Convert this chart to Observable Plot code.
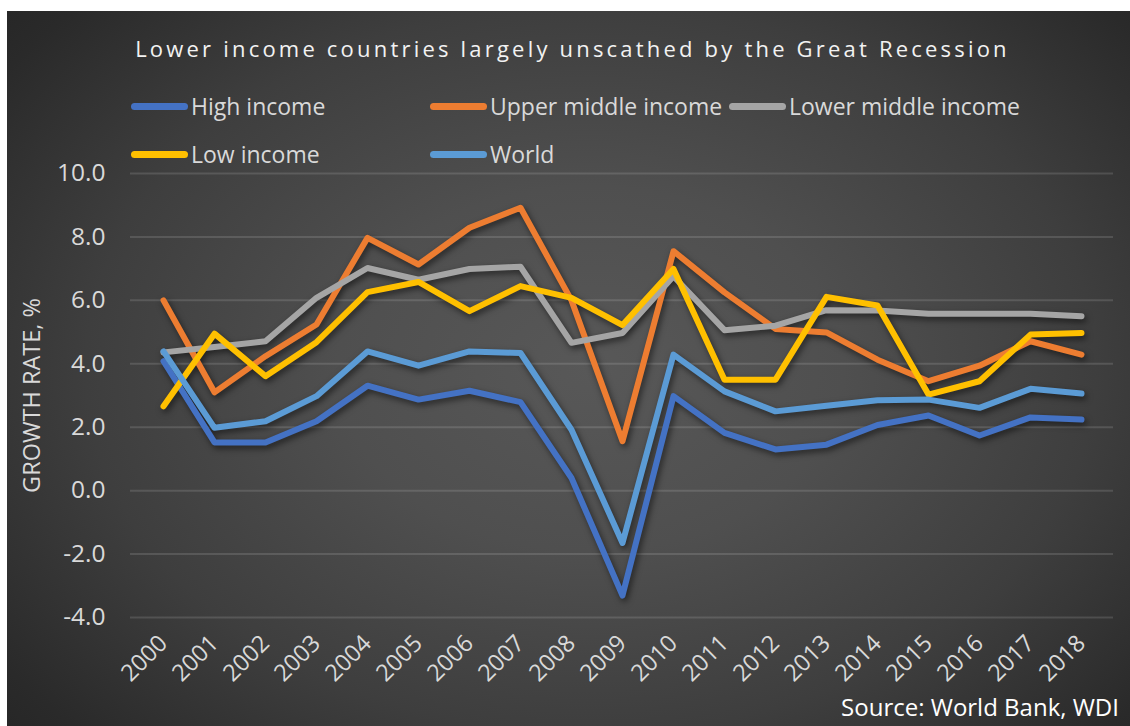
<!DOCTYPE html>
<html>
<head>
<meta charset="utf-8">
<script src="https://cdn.jsdelivr.net/npm/d3@7"></script>
<script src="https://cdn.jsdelivr.net/npm/@observablehq/plot@0.6"></script>
<style>
  html, body { margin: 0; padding: 0; background: #ffffff; }
  body { width: 1130px; height: 726px; position: relative; overflow: hidden; font-family: "Open Sans", Lato, sans-serif; }
  #panel {
    position: absolute; left: 7px; top: 11px; width: 1123px; height: 715px;
    background: radial-gradient(ellipse 75% 85% at 52% 50%, #585858 0%, #4f4f4f 30%, #3e3e3e 60%, #2a2a2a 85%, #222222 100%);
    overflow: hidden;
  }
  #title {
    position: absolute; left: 4px; top: 22px; width: 1123px; text-align: center;
    color: #f2f2f2; font-size: 22px; letter-spacing: 3.2px; white-space: nowrap;
  }
  #legend { position: absolute; left: 124px; top: 78px; width: 960px; }
  .item { position: absolute; display: flex; align-items: center; height: 34px; color: #d9d9d9; font-size: 23px; white-space: nowrap; }
  .sw { width: 57px; height: 7px; border-radius: 4px; margin-right: 3px; }
  #chart { position: absolute; left: 0; top: 149px; }
  #chart svg g[aria-label="line"] { filter: drop-shadow(2px 3px 3px rgba(0,0,0,0.55)); }
  #source { position: absolute; right: 11px; top: 679px; color: #ffffff; font-size: 24px; white-space: nowrap; }
</style>
</head>
<body>
<div id="panel">
  <div id="title">Lower income countries largely unscathed by the Great Recession</div>
  <div id="legend"></div>
  <div id="chart"></div>
  <div id="source">Source: World Bank, WDI</div>
</div>
<script>
const years = ["2000","2001","2002","2003","2004","2005","2006","2007","2008","2009","2010","2011","2012","2013","2014","2015","2016","2017","2018"];
const seriesNames = ["High income", "Upper middle income", "Lower middle income", "Low income", "World"];
const seriesColors = ["#4472C4", "#ED7D31", "#A5A5A5", "#FFC000", "#5B9BD5"];

const highIncome   = [4.08, 1.52, 1.52, 2.19, 3.31, 2.87, 3.15, 2.79, 0.40, -3.31, 2.98, 1.82, 1.30, 1.45, 2.07, 2.37, 1.74, 2.31, 2.24];
const upperMiddle  = [6.00, 3.10, 4.24, 5.24, 7.97, 7.13, 8.29, 8.92, 6.00, 1.56, 7.55, 6.25, 5.10, 4.99, 4.13, 3.45, 3.94, 4.71, 4.29];
const lowerMiddle  = [4.36, 4.53, 4.71, 6.08, 7.02, 6.65, 6.99, 7.06, 4.66, 4.97, 6.76, 5.06, 5.20, 5.69, 5.68, 5.58, 5.58, 5.58, 5.50];
const lowIncome    = [2.66, 4.95, 3.61, 4.68, 6.26, 6.58, 5.66, 6.45, 6.08, 5.22, 6.99, 3.50, 3.50, 6.11, 5.84, 3.03, 3.45, 4.92, 4.97];
const world        = [4.39, 1.98, 2.19, 2.98, 4.39, 3.94, 4.39, 4.34, 1.92, -1.65, 4.29, 3.13, 2.50, 2.68, 2.85, 2.87, 2.61, 3.21, 3.06];

const yTicks = [-4, -2, 0, 2, 4, 6, 8, 10];

const seriesValues = [highIncome, upperMiddle, lowerMiddle, lowIncome, world];
const data = [];
seriesNames.forEach((name, i) => {
  years.forEach((yr, j) => data.push({series: name, year: yr, value: seriesValues[i][j]}));
});

// Legend
const legend = document.getElementById("legend");
const legendPos = [[0,0],[299,0],[598,0],[0,48],[299,48]];
seriesNames.forEach((name, i) => {
  const it = document.createElement("div");
  it.className = "item";
  it.style.left = legendPos[i][0] + "px";
  it.style.top = legendPos[i][1] + "px";
  const sw = document.createElement("div");
  sw.className = "sw";
  sw.style.background = seriesColors[i];
  const tx = document.createElement("span");
  tx.textContent = name;
  it.appendChild(sw); it.appendChild(tx);
  legend.appendChild(it);
});

const chart = Plot.plot({
  width: 1123,
  height: 545,
  marginLeft: 123,
  marginRight: 17,
  marginTop: 13,
  marginBottom: 88,
  style: { background: "transparent", fontFamily: "'Open Sans', Lato, sans-serif", color: "#d9d9d9", overflow: "visible" },
  x: { type: "point", domain: years, padding: 0.5, label: null },
  y: { domain: [-4, 10], ticks: yTicks, label: "GROWTH RATE, %" },
  color: { domain: seriesNames, range: seriesColors },
  marks: [
    Plot.gridY(yTicks, { stroke: "#ffffff", strokeOpacity: 0.13, strokeWidth: 2 }),
    Plot.axisY({ ticks: yTicks, tickSize: 0, tickPadding: 25, tickFormat: d => d.toFixed(1), fontSize: 24.5, fill: "#d9d9d9", label: null }),
    Plot.axisY({ ticks: [], tickSize: 0, fontSize: 23.5, fill: "#d9d9d9",
      label: "GROWTH RATE, %", labelAnchor: "center", labelOffset: 107, labelArrow: "none" }),
    Plot.axisX({ tickSize: 0, tickPadding: 22, tickRotate: -45, fontSize: 23.5, fill: "#d9d9d9", label: null }),
    Plot.line(data, { x: "year", y: "value", z: "series", stroke: "series", strokeWidth: 6, strokeLinecap: "round", strokeLinejoin: "round" })
  ]
});
document.getElementById("chart").appendChild(chart);
</script>
</body>
</html>
